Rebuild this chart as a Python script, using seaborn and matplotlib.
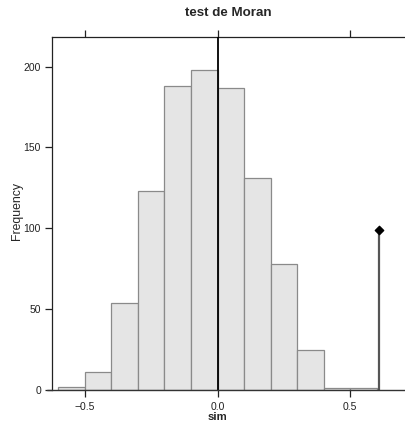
import numpy as np
import pandas as pd
import matplotlib
matplotlib.use("Agg")
import matplotlib.pyplot as plt
import seaborn as sns

# Data
bin_edges = [-0.6, -0.5, -0.4, -0.3, -0.2, -0.1, 0.0, 0.1, 0.2, 0.3, 0.4, 0.5, 0.6]
counts = [2, 11, 54, 123, 188, 198, 187, 131, 78, 25, 1, 1]
obs_value = 0.608
obs_height = 99
x_ticks = [-0.5, 0.0, 0.5]
x_tick_labels = ["\u22120.5", "0.0", "0.5"]
y_ticks = [0, 50, 100, 150, 200]
title = "test de Moran"
xlabel = "sim"
ylabel = "Frequency"

sns.set_theme(style="white")
plt.rcParams["font.family"] = ["Liberation Sans", "DejaVu Sans"]

centers = [(bin_edges[i] + bin_edges[i + 1]) / 2 for i in range(len(counts))]
df = pd.DataFrame({"sim": centers, "n": counts})

W, H = 405, 422
fig = plt.figure(figsize=(W / 100, H / 100), dpi=100)
ax = fig.add_axes([52 / W, 1 - 390 / H, 1 - 52 / W, (390 - 37) / H])

sns.histplot(data=df, x="sim", weights="n", bins=bin_edges, ax=ax,
             color="#e5e5e5", edgecolor="#8a8a8a", linewidth=0.9, alpha=1.0)

ax.set_xlim(-0.6245, 0.7075)
ax.set_ylim(0, 218.3)

# reference vertical line at 0
ax.axvline(0, color="black", lw=1.3, zorder=4)

# observed value
ax.plot([obs_value, obs_value], [0, obs_height], color="#555555", lw=1.6, zorder=5)
ax.scatter([obs_value], [obs_height], marker="D", s=18, color="black", zorder=6)

# baseline extending slightly left of the left spine
ax.plot([-0.643, 0.7075], [0, 0], color="#333333", lw=1.0, clip_on=False, zorder=7)

for s in ["right", "bottom"]:
    ax.spines[s].set_visible(False)
for s in ["left", "top"]:
    ax.spines[s].set_visible(True)
    ax.spines[s].set_color("#222222")
    ax.spines[s].set_linewidth(0.9)

ax.set_xticks(x_ticks)
ax.set_xticklabels(x_tick_labels)
ax.set_yticks(y_ticks)
ax.tick_params(axis="x", which="both", bottom=True, top=True, direction="out",
               length=5, width=0.9, color="#222222", labelsize=7.5, pad=4,
               labelcolor="#222222")
ax.tick_params(axis="y", left=True, direction="out", length=5, width=0.9,
               color="#222222", labelsize=7.5, pad=3, labelcolor="#222222")

ax.set_title(title, fontsize=9.6, fontweight="bold", pad=15)
ax.set_xlabel("")
ax.set_ylabel("")
fig.text(217 / W, 1 - 417 / H, xlabel, fontsize=8.2, fontweight="bold",
         ha="center", va="center")
fig.text(17 / W, 1 - 211 / H, ylabel, fontsize=8.8, rotation=90,
         ha="center", va="center")

fig.savefig("out.png", dpi=100)
